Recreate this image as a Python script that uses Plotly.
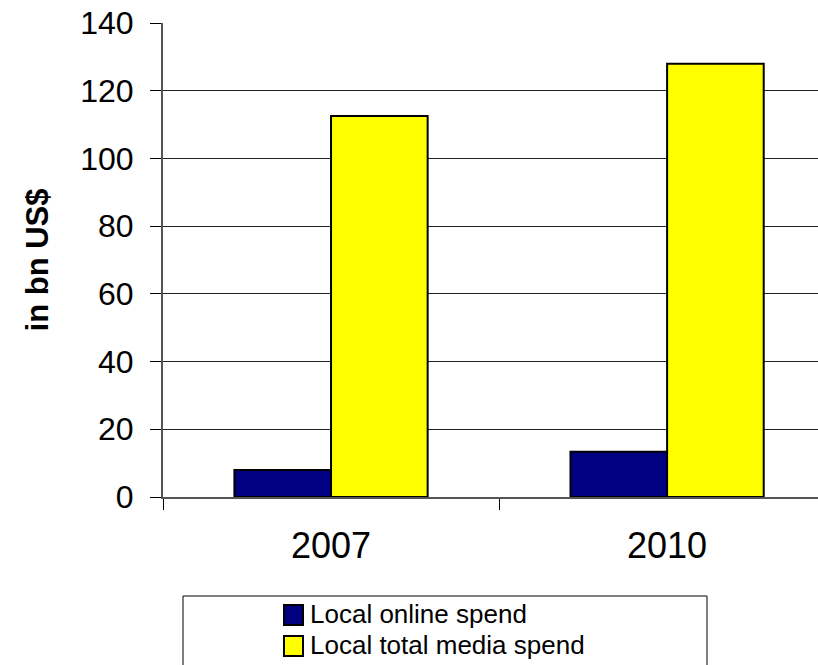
import plotly.graph_objects as go

# Local advertising spend, in bn US$
years = ["2007", "2010"]
online_spend = [8.0, 13.4]
total_media_spend = [112.5, 128.0]
series_names = ["Local online spend", "Local total media spend"]
series_colors = ["#000080", "#FFFF00"]
y_ticks = [0, 20, 40, 60, 80, 100, 120, 140]

FONT = "Arial, Liberation Sans, sans-serif"
W, H = 818, 665
L, R, T, B = 163, 0, 23, 168

fig = go.Figure()
for name, values, color in zip(series_names, [online_spend, total_media_spend], series_colors):
    fig.add_trace(go.Bar(
        x=years, y=values, name=name, showlegend=False,
        marker=dict(color=color, line=dict(color="#000000", width=2)),
    ))

plot_w = W - L - R
plot_h = H - T - B


def px_x(px):
    return (px - L) / plot_w


def px_y(py):
    return (H - B - py) / plot_h


# legend frame
fig.add_shape(
    type="rect", xref="paper", yref="paper",
    x0=px_x(183), x1=px_x(707), y0=px_y(700), y1=px_y(596),
    line=dict(color="#000000", width=1), fillcolor="rgba(0,0,0,0)",
)

# legend entries: swatch + label
entry_tops = [605, 636]
for name, color, top in zip(series_names, series_colors, entry_tops):
    fig.add_shape(
        type="rect", xref="paper", yref="paper",
        x0=px_x(284), x1=px_x(303), y0=px_y(top + 20), y1=px_y(top),
        line=dict(color="#000000", width=2), fillcolor=color,
    )
    fig.add_annotation(
        xref="paper", yref="paper", x=px_x(309), y=px_y(top + 9),
        xanchor="left", yanchor="middle", showarrow=False, borderpad=0,
        text=name, font=dict(family=FONT, size=26, color="#000000"),
    )

fig.update_layout(
    width=W, height=H,
    margin=dict(l=L, r=R, t=T, b=B, autoexpand=False),
    paper_bgcolor="white", plot_bgcolor="white",
    barmode="group", bargap=0.425, bargroupgap=0,
    font=dict(family=FONT, color="#000000"),
    showlegend=False,
    xaxis=dict(
        type="category", range=[-0.5, 1.449],
        tickson="boundaries", ticks="outside", ticklen=11,
        tickcolor="#000000", tickwidth=1,
        tickfont=dict(family=FONT, size=36),
        ticklabelstandoff=16,
        showline=True, linecolor="#555555", linewidth=2,
        showgrid=False, zeroline=False, automargin=False,
    ),
    yaxis=dict(
        range=[0, 140], tickvals=y_ticks,
        ticks="outside", ticklen=11, tickcolor="#000000", tickwidth=1,
        tickfont=dict(family=FONT, size=32),
        ticklabelstandoff=10,
        showline=True, linecolor="#555555", linewidth=2,
        showgrid=True, gridcolor="#222222", gridwidth=1,
        zeroline=False, automargin=False,
        title=dict(text="<b>in bn US$</b>", font=dict(family=FONT, size=31),
                   standoff=22),
    ),
)

fig.write_html("out.html")
